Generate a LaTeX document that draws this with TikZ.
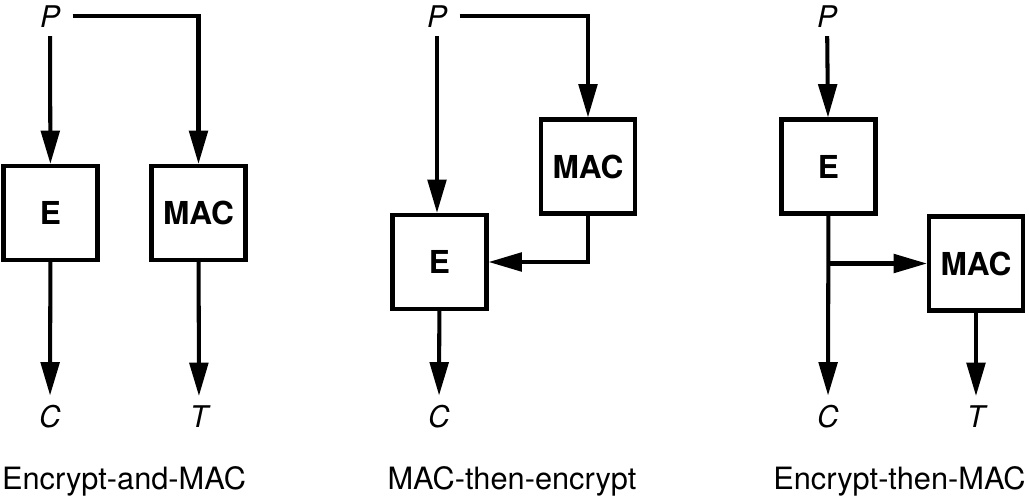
\documentclass[tikz,border=0pt]{standalone}
\usepackage{fontspec}
\setmainfont{TeX Gyre Heros}
\usetikzlibrary{shapes, arrows.meta}
\tikzstyle{block} = [rectangle, minimum size=1.88cm, draw=black, line width=2.3pt, fill=white, font=\fontsize{18}{20}\selectfont\bfseries, inner sep=0pt]
\tikzstyle{signal} = [font=\fontsize{17}{19}\selectfont\itshape, anchor=base, inner xsep=7pt, inner ysep=5pt]
\tikzstyle{scheme} = [font=\fontsize{17.5}{20}\selectfont, anchor=base, inner sep=0pt]
\tikzstyle{arrow} = [line width=2.3pt, -{Triangle[length=19pt, width=10.5pt]}]

\begin{document}
\begin{tikzpicture}[x=0.02cm, y=-0.02cm, line join=miter]
    \useasboundingbox (0,0) rectangle (1029,501);
    % Encrypt-and-MAC
    \node (pA) [signal] at (50,27) {P};
    \node (eA) [block] at (50.5,213) {E};
    \node (macA) [block] at (198.5,213) {MAC};
    \node (cA) [signal] at (50,427) {C};
    \node (tA) [signal] at (199,427) {T};
    \node (capA) [scheme] at (124,489) {Encrypt-and-MAC};

    % MAC-then-encrypt
    \node (pB) [signal] at (437,27) {P};
    \node (eB) [block] at (439.5,262) {E};
    \node (macB) [block] at (588,166.5) {MAC};
    \node (cB) [signal] at (439,427) {C};
    \node (capB) [scheme] at (512,489) {MAC-then-encrypt};

    % Encrypt-then-MAC
    \node (pC) [signal] at (827,27) {P};
    \node (eC) [block] at (828.5,166.5) {E};
    \node (macC) [block] at (976,263.5) {MAC};
    \node (cC) [signal] at (828,427) {C};
    \node (tC) [signal] at (976,427) {T};
    \node (capC) [scheme] at (899.5,489) {Encrypt-then-MAC};
    \coordinate (split) at (828.5,263.5);

    % Arrows
    \draw [arrow] (pA) -- (eA);
    \draw [arrow] (pA) -| (macA);
    \draw [arrow] (eA) -- (cA);
    \draw [arrow] (macA) -- (tA);

    \draw [arrow] (pB) -- (pB |- eB.north);
    \draw [arrow] (pB) -| (macB);
    \draw [arrow] (macB) |- (eB);
    \draw [arrow] (eB) -- (cB);

    \draw [arrow] (pC) -- (eC);
    \draw [arrow] (eC) -- (cC);
    \draw [arrow] (split) -- (macC);
    \draw [arrow] (macC) -- (tC);
\end{tikzpicture}
\end{document}
